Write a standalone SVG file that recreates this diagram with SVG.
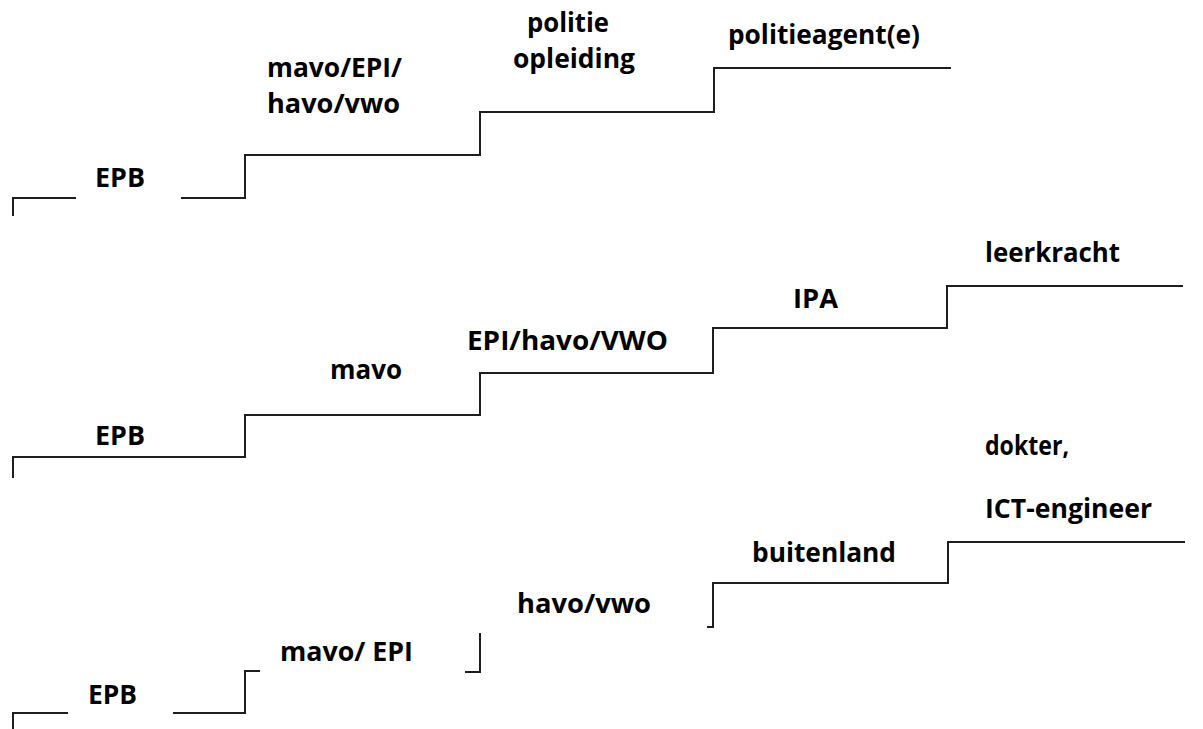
<svg xmlns="http://www.w3.org/2000/svg" width="1203" height="729" viewBox="0 0 1203 729">
<style>
.bg{fill:#ffffff}
.ln{fill:none;stroke:#1e1e1e;stroke-width:2;stroke-linecap:square;stroke-linejoin:miter}
.t{font-family:"Open Sans","Liberation Sans",sans-serif;font-weight:bold;font-size:26px;fill:#000}
</style>
<rect class="bg" x="0" y="0" width="1203" height="729"/>
<g id="connectors">
<path class="ln" d="M13,215 V198 H75"/>
<path class="ln" d="M182,198 H245 V155 H480 V112 H714 V68 H950"/>
<path class="ln" d="M13,477 V457 H245 V415 H480 V373 H713 V328 H947 V286 H1182"/>
<path class="ln" d="M13,729 V713 H67"/>
<path class="ln" d="M174,713 H245 V671 H259"/>
<path class="ln" d="M466,672 H480 V634"/>
<path class="ln" d="M708,627 H713 V583 H948 V542 H1184"/>
</g>
<g id="s1-epb"><text class="t" x="95" y="187" textLength="50" lengthAdjust="spacingAndGlyphs">EPB</text></g>
<g id="s1-mavo"><text class="t" x="267" y="77" textLength="135" lengthAdjust="spacingAndGlyphs">mavo/EPI/</text><text class="t" x="267" y="113" textLength="133" lengthAdjust="spacingAndGlyphs">havo/vwo</text></g>
<g id="s1-politie"><text class="t" x="527" y="32" textLength="82" lengthAdjust="spacingAndGlyphs">politie</text><text class="t" x="513" y="68" textLength="122" lengthAdjust="spacingAndGlyphs">opleiding</text></g>
<g id="s1-agent"><text class="t" x="728" y="44" textLength="192" lengthAdjust="spacingAndGlyphs">politieagent(e)</text></g>
<g id="s2-epb"><text class="t" x="95" y="445" textLength="50" lengthAdjust="spacingAndGlyphs">EPB</text></g>
<g id="s2-mavo"><text class="t" x="330" y="379" textLength="72" lengthAdjust="spacingAndGlyphs">mavo</text></g>
<g id="s2-epi"><text class="t" x="467" y="350" textLength="201" lengthAdjust="spacingAndGlyphs">EPI/havo/VWO</text></g>
<g id="s2-ipa"><text class="t" x="793" y="308" textLength="45" lengthAdjust="spacingAndGlyphs">IPA</text></g>
<g id="s2-leerkracht"><text class="t" x="985" y="262" textLength="135" lengthAdjust="spacingAndGlyphs">leerkracht</text></g>
<g id="s3-epb"><text class="t" x="88" y="704" textLength="49" lengthAdjust="spacingAndGlyphs">EPB</text></g>
<g id="s3-mavo"><text class="t" x="280" y="661" textLength="133" lengthAdjust="spacingAndGlyphs">mavo/ EPI</text></g>
<g id="s3-havo"><text class="t" x="517" y="613" textLength="134" lengthAdjust="spacingAndGlyphs">havo/vwo</text></g>
<g id="s3-buitenland"><text class="t" x="752" y="562" textLength="144" lengthAdjust="spacingAndGlyphs">buitenland</text></g>
<g id="s3-dokter"><text class="t" x="985" y="455" textLength="84" lengthAdjust="spacingAndGlyphs">dokter,</text><text class="t" x="985" y="518" textLength="167" lengthAdjust="spacingAndGlyphs">ICT-engineer</text></g>
</svg>
